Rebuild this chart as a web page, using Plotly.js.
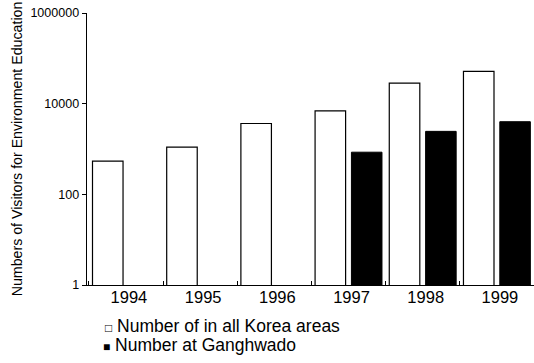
<!DOCTYPE html>
<html>
<head>
<meta charset="utf-8">
<script src="https://cdn.plot.ly/plotly-3.0.1.min.js"></script>
<style>
  html, body { margin: 0; padding: 0; background: #ffffff; }
  #chart { width: 534px; height: 363px; }
</style>
</head>
<body>
<div id="chart"></div>
<script>
// Visitors for environment education, per year (log scale)
const years = ['1994', '1995', '1996', '1997', '1998', '1999'];
const allKorea = [540, 1100, 3650, 6900, 28500, 51500];
const ganghwado = [null, null, null, 850, 2450, 4000];

const seriesNames = ['Number of in all Korea areas', 'Number at Ganghwado'];
const legendGlyphs = ['\u25A1', '\u25A0'];

const yTickVals = [1, 100, 10000, 1000000];
const yTickText = ['1', '100', '10000', '1000000'];
const yTitle = 'Numbers of Visitors for Environment Education';

const FONT = 'Liberation Sans, Arial, Helvetica, sans-serif';

const traces = [
  {
    type: 'bar',
    name: seriesNames[0],
    x: years,
    y: allKorea,
    marker: { color: '#ffffff', line: { color: '#000000', width: 1.2 } },
    hoverinfo: 'x+y'
  },
  {
    type: 'bar',
    name: seriesNames[1],
    x: years,
    y: ganghwado,
    marker: { color: '#000000', line: { color: '#000000', width: 1 } },
    hoverinfo: 'x+y'
  }
];

// Legend rows written as text lines under the axis, with a small key square
const legendRows = seriesNames.map((name, i) => ({
  xref: 'paper', yref: 'paper',
  x: [0.036, 0.032][i],
  y: [-0.149, -0.222][i],
  xanchor: 'left', yanchor: 'middle',
  showarrow: false,
  text: '<span style="font-size:12px">' + legendGlyphs[i] + '</span> ' + name,
  font: { family: FONT, size: 17.5, color: '#000000' }
}));

const layout = {
  width: 534,
  height: 363,
  margin: { l: 87, r: 0, t: 13, b: 77.5 },
  paper_bgcolor: '#ffffff',
  plot_bgcolor: '#ffffff',
  showlegend: false,
  barmode: 'group',
  bargap: 0.02,
  bargroupgap: 0.16,
  font: { family: FONT, color: '#000000' },
  xaxis: {
    type: 'category',
    categoryorder: 'array',
    categoryarray: years,
    range: [-0.525, 5.5],
    showline: true,
    linecolor: '#000000',
    linewidth: 1.4,
    showgrid: false,
    zeroline: false,
    ticks: 'inside',
    tickson: 'boundaries',
    ticklen: 4,
    tickcolor: '#000000',
    tickwidth: 1,
    ticklabelshift: 3,
    ticklabelstandoff: -3,
    tickfont: { family: FONT, size: 16.5, color: '#000000' },
    fixedrange: true
  },
  yaxis: {
    type: 'log',
    range: [0, 6],
    tickmode: 'array',
    tickvals: yTickVals,
    ticktext: yTickText,
    showline: true,
    linecolor: '#000000',
    linewidth: 1.4,
    showgrid: false,
    zeroline: false,
    ticks: 'outside',
    ticklen: 4,
    tickcolor: '#000000',
    tickwidth: 1,
    tickfont: { family: FONT, size: 12.5, color: '#000000' },
    title: {
      text: yTitle,
      font: { family: FONT, size: 14.2, color: '#000000' },
      standoff: 4
    },
    fixedrange: true
  },
  annotations: legendRows
};

Plotly.newPlot('chart', traces, layout, { displayModeBar: false, staticPlot: true });
</script>
</body>
</html>
